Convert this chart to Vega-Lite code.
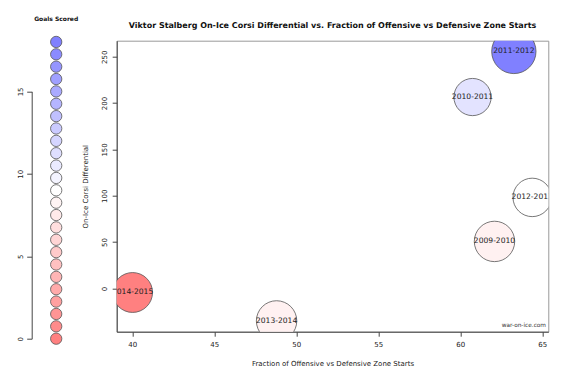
{
  "$schema": "https://vega.github.io/schema/vega-lite/v6.json",
  "background": "white",
  "padding": {"left": 15.7, "top": 14.7, "right": 5, "bottom": 5},
  "config": {
    "font": "DejaVu Sans",
    "view": {"stroke": "#999", "strokeWidth": 1},
    "axis": {"grid": false, "domainColor": "#444", "tickColor": "#444", "labelColor": "#222", "titleColor": "#222", "labelFontSize": 7, "titleFontSize": 7, "titleFontWeight": "normal", "tickSize": 4.5, "domainWidth": 1, "tickWidth": 1, "labelFont": "DejaVu Sans", "titleFont": "DejaVu Sans"},
    "title": {"color": "#111", "font": "DejaVu Sans"}
  },
  "datasets": {
    "seasons": [
      {"season": "2009-2010", "ozs": 62.09, "corsi": 50.7, "goals": 8, "toi": 1040},
      {"season": "2010-2011", "ozs": 60.75, "corsi": 206.5, "goals": 11, "toi": 882},
      {"season": "2011-2012", "ozs": 63.27, "corsi": 255.7, "goals": 18, "toi": 1250},
      {"season": "2012-2013", "ozs": 64.39, "corsi": 98.2, "goals": 9, "toi": 942},
      {"season": "2013-2014", "ozs": 48.8, "corsi": -35.1, "goals": 8, "toi": 1040},
      {"season": "2014-2015", "ozs": 40.02, "corsi": -4.4, "goals": 0, "toi": 1012}
    ],
    "legend": [
      {"goals": 0}, {"goals": 0.75}, {"goals": 1.5}, {"goals": 2.25}, {"goals": 3},
      {"goals": 3.75}, {"goals": 4.5}, {"goals": 5.25}, {"goals": 6}, {"goals": 6.75},
      {"goals": 7.5}, {"goals": 8.25}, {"goals": 9}, {"goals": 9.75}, {"goals": 10.5},
      {"goals": 11.25}, {"goals": 12}, {"goals": 12.75}, {"goals": 13.5}, {"goals": 14.25},
      {"goals": 15}, {"goals": 15.75}, {"goals": 16.5}, {"goals": 17.25}, {"goals": 18}
    ],
    "credit": [{"site": "war-on-ice.com"}]
  },
  "bounds": "flush",
  "spacing": 36,
  "hconcat": [
    {
      "width": 49,
      "height": 298,
      "view": {"stroke": null},
      "title": {"text": "Goals Scored", "fontSize": 6, "fontWeight": "bold", "anchor": "middle", "frame": "group", "baseline": "alphabetic", "offset": 8},
      "data": {"name": "legend"},
      "mark": {"type": "point", "shape": "circle", "filled": true, "opacity": 1, "size": 128, "stroke": "#555", "strokeWidth": 0.8},
      "encoding": {
        "y": {
          "field": "goals", "type": "quantitative",
          "scale": {"domain": [0, 15], "range": [298, 50.7], "nice": false, "zero": false},
          "axis": {"values": [0, 5, 10, 15], "title": null, "labelAngle": -90, "labelAlign": "center", "labelBaseline": "alphabetic", "labelPadding": 4.5, "tickSize": 5}
        },
        "color": {
          "field": "goals", "type": "quantitative",
          "scale": {"domain": [0, 9, 18], "range": ["#FF8080", "#FFFFFF", "#8080FF"], "interpolate": "rgb"},
          "legend": null
        }
      }
    },
    {
      "width": 431.6,
      "height": 291,
      "title": {"text": "Viktor Stalberg On-Ice Corsi Differential vs. Fraction of Offensive vs Defensive Zone Starts", "fontSize": 8, "fontWeight": "bold", "anchor": "middle", "frame": "group", "baseline": "alphabetic", "offset": 5},
      "layer": [
        {
          "data": {"name": "seasons"},
          "mark": {"type": "point", "shape": "circle", "filled": true, "opacity": 1, "stroke": "#555", "strokeWidth": 0.8, "clip": true},
          "encoding": {
            "x": {
              "field": "ozs", "type": "quantitative",
              "scale": {"domain": [39.05, 65.37], "nice": false, "zero": false},
              "axis": {"values": [40, 45, 50, 55, 60, 65], "title": "Fraction of Offensive vs Defensive Zone Starts", "labelBaseline": "alphabetic", "labelPadding": 10.8, "titleY": 33.5, "titleBaseline": "alphabetic"}
            },
            "y": {
              "field": "corsi", "type": "quantitative",
              "scale": {"domain": [-46.7, 267.3], "nice": false, "zero": false},
              "axis": {"values": [0, 50, 100, 150, 200, 250], "title": "On-Ice Corsi Differential", "labelAngle": -90, "labelAlign": "center", "labelBaseline": "alphabetic", "labelPadding": 5.5, "titleX": -29.2, "titleBaseline": "alphabetic"}
            },
            "size": {"field": "toi", "type": "quantitative", "scale": {"domain": [0, 1250], "range": [0, 1963]}, "legend": null},
            "color": {
              "field": "goals", "type": "quantitative",
              "scale": {"domain": [0, 9, 18], "range": ["#FF8080", "#FFFFFF", "#8080FF"], "interpolate": "rgb"},
              "legend": null
            }
          }
        },
        {
          "data": {"name": "seasons"},
          "mark": {"type": "text", "clip": true, "fontSize": 7.6, "color": "#222", "baseline": "middle", "align": "center"},
          "encoding": {
            "x": {"field": "ozs", "type": "quantitative", "title": "Fraction of Offensive vs Defensive Zone Starts"},
            "y": {"field": "corsi", "type": "quantitative", "title": "On-Ice Corsi Differential"},
            "text": {"field": "season", "type": "nominal"}
          }
        },
        {
          "data": {"name": "credit"},
          "mark": {"type": "text", "fontSize": 5.8, "fontWeight": "normal", "color": "#333", "align": "right", "baseline": "middle"},
          "encoding": {
            "x": {"datum": 65.23, "type": "quantitative", "title": "Fraction of Offensive vs Defensive Zone Starts"},
            "y": {"datum": -40, "type": "quantitative", "title": "On-Ice Corsi Differential"},
            "text": {"field": "site", "type": "nominal"}
          }
        }
      ]
    }
  ]
}
